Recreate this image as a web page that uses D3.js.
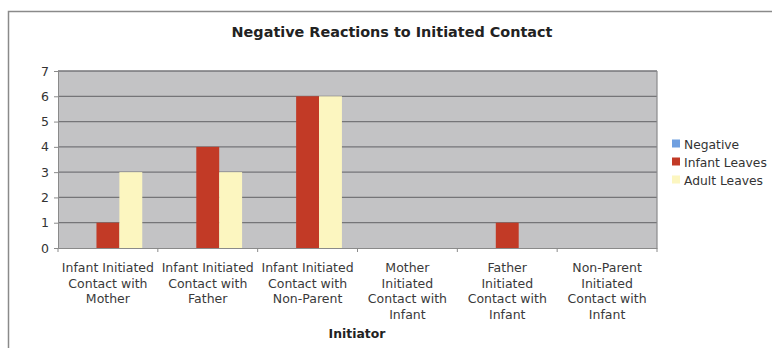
<!DOCTYPE html>
<html>
<head>
<meta charset="utf-8">
<script src="https://cdn.jsdelivr.net/npm/d3@7/dist/d3.min.js"></script>
<style>
  html, body { margin: 0; padding: 0; background: #fff; }
  svg { display: block; }
  text { font-family: "DejaVu Sans", Verdana, sans-serif; fill: #333; }
</style>
</head>
<body>
<svg id="chart" width="772" height="348"></svg>
<script>
// Categories (each label broken into display lines)
const categories = [
  ["Infant Initiated", "Contact with", "Mother"],
  ["Infant Initiated", "Contact with", "Father"],
  ["Infant Initiated", "Contact with", "Non-Parent"],
  ["Mother", "Initiated", "Contact with", "Infant"],
  ["Father", "Initiated", "Contact with", "Infant"],
  ["Non-Parent", "Initiated", "Contact with", "Infant"]
];
const seriesNames = ["Negative", "Infant Leaves", "Adult Leaves"];
const negative     = [0, 0, 0, 0, 0, 0];
const infantLeaves = [1, 4, 6, 0, 1, 0];
const adultLeaves  = [3, 3, 6, 0, 0, 0];
const yTicks = [0, 1, 2, 3, 4, 5, 6, 7];
const colors = ["#6f9fe0", "#c23a26", "#fcf6c0"];

const series = [negative, infantLeaves, adultLeaves];

const svg = d3.select("#chart");
const plot = { left: 58, right: 657, top: 71, bottom: 248 };

// Outer chart frame
svg.append("path")
  .attr("d", "M8.5,348 V11.5 H772")
  .attr("fill", "none").attr("stroke", "#8a8a8a").attr("stroke-width", 1.5);

// Title
svg.append("text")
  .attr("x", 392).attr("y", 37)
  .attr("text-anchor", "middle")
  .style("font-weight", "bold").style("font-size", "14.4px").style("fill", "#222")
  .text("Negative Reactions to Initiated Contact");

const x0 = d3.scaleBand()
  .domain(d3.range(categories.length))
  .range([plot.left, plot.right])
  .paddingInner(0).paddingOuter(0);
const x1 = d3.scaleBand()
  .domain(d3.range(series.length))
  .range([0, x0.bandwidth()])
  .paddingOuter(0.68).paddingInner(0);
const y = d3.scaleLinear().domain([0, 7]).range([plot.bottom, plot.top]);

// Plot background
svg.append("rect")
  .attr("x", plot.left).attr("y", plot.top)
  .attr("width", plot.right - plot.left).attr("height", plot.bottom - plot.top)
  .attr("fill", "#c3c3c5");

// Gridlines
svg.append("g").selectAll("line").data(yTicks.slice(1)).join("line")
  .attr("x1", plot.left).attr("x2", plot.right)
  .attr("y1", d => y(d)).attr("y2", d => y(d))
  .attr("stroke", "#757578").attr("stroke-width", 1.3);

// Bars
const groups = svg.append("g").selectAll("g").data(series).join("g")
  .attr("fill", (d, i) => colors[i]);
groups.each(function(vals, si) {
  d3.select(this).selectAll("rect").data(vals).join("rect")
    .attr("x", (d, ci) => x0(ci) + x1(si))
    .attr("width", x1.bandwidth())
    .attr("y", d => y(d))
    .attr("height", d => y(0) - y(d));
});

// Plot border on the right
svg.append("path")
  .attr("d", `M${plot.right},${plot.top} V${plot.bottom}`)
  .attr("stroke", "#8a8a8c").attr("stroke-width", 1.2);

// Y axis
const yAxis = svg.append("g")
  .attr("transform", `translate(${plot.left},0)`)
  .call(d3.axisLeft(y).tickValues(yTicks).tickFormat(d3.format("d")).tickSize(4).tickPadding(5));
yAxis.select(".domain").attr("stroke", "#8a8a8a");
yAxis.selectAll(".tick line").attr("stroke", "#8a8a8a");
yAxis.selectAll("text").style("font-size", "12.5px").style("fill", "#333");

// X axis
const xAxis = svg.append("g")
  .attr("transform", `translate(0,${plot.bottom})`)
  .call(d3.axisBottom(x0).tickValues([]).tickSizeOuter(0));
xAxis.select(".domain").attr("stroke", "#8a8a8a").attr("stroke-width", 1.2);
xAxis.selectAll(".bnd").data(d3.range(categories.length + 1)).join("line")
  .attr("class", "bnd")
  .attr("x1", i => plot.left + i * x0.step()).attr("x2", i => plot.left + i * x0.step())
  .attr("y1", 0).attr("y2", 4)
  .attr("stroke", "#8a8a8a");

// Category labels
const lab = svg.append("g").selectAll("text").data(categories).join("text")
  .attr("text-anchor", "middle")
  .attr("x", (d, i) => x0(i) + x0.bandwidth() / 2)
  .attr("y", 272)
  .style("font-size", "12.5px").style("fill", "#3a3a3a");
lab.selectAll("tspan").data(d => d).join("tspan")
  .attr("x", function() { return d3.select(this.parentNode).attr("x"); })
  .attr("dy", (d, i) => i === 0 ? 0 : 15.6)
  .text(d => d);

// Axis title
svg.append("text")
  .attr("x", 357).attr("y", 338)
  .attr("text-anchor", "middle")
  .style("font-weight", "bold").style("font-size", "12.4px").style("fill", "#222")
  .text("Initiator");

// Legend
const legend = svg.append("g").attr("transform", "translate(672,144)");
const li = legend.selectAll("g").data(seriesNames).join("g")
  .attr("transform", (d, i) => `translate(0,${i * 18})`);
li.append("rect").attr("width", 8).attr("height", 8).attr("y", -4.5)
  .attr("fill", (d, i) => colors[i]);
li.append("text").attr("x", 12).attr("y", 4.5)
  .style("font-size", "12.3px").style("fill", "#333")
  .text(d => d);
</script>
</body>
</html>
